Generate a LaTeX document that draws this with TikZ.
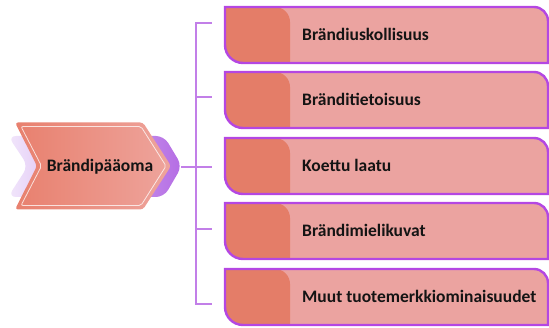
\documentclass[tikz,border=0pt]{standalone}
\usepackage{fontspec}
\setmainfont{Carlito}
\definecolor{boxlight}{HTML}{EBA3A0}
\definecolor{boxdark}{HTML}{E47D68}
\definecolor{boxedge}{HTML}{B447E2}
\definecolor{linkline}{HTML}{C27FE8}
\definecolor{chevleft}{HTML}{E8806E}
\definecolor{chevright}{HTML}{EEA49C}
\definecolor{shadeleft}{HTML}{F1E6FB}
\definecolor{shaderight}{HTML}{B46CE4}
\definecolor{ink}{HTML}{141414}
\begin{document}
\begin{tikzpicture}[x=1pt,y=1pt,
  labeltext/.style={font=\fontsize{17.5}{20}\selectfont\bfseries, text=ink, inner sep=0pt},
  bracketline/.style={draw=linkline, line width=2pt},
  boxborder/.style={draw=boxedge, line width=2.4pt}]
\useasboundingbox (0,0) rectangle (549,327);

% soft purple chevron lying behind the main one
\shade[left color=shadeleft, right color=shaderight, rounded corners=8]
  (8,191) -- (164,191) -- (182,161) -- (164,130) -- (8,130) -- (28,161) -- cycle;

% main chevron with its thin inner outline
\shade[left color=chevleft, right color=chevright, rounded corners=3]
  (15,204.5) -- (143,204.5) -- (171,161) -- (143,117.5) -- (15,117.5) -- (37,161) -- cycle;
\draw[white, opacity=0.75, line width=0.8pt, rounded corners=2]
  (21,200.5) -- (141,200.5) -- (166,161) -- (141,121.5) -- (21,121.5) -- (41.5,161) -- cycle;
\node[labeltext] (root) at (100,160) {Brändipääoma};
\coordinate (hub) at (181,160);

% the five rounded boxes, each with a darker tab on the left
\foreach \t/\lab [count=\i] in {320/Brändiuskollisuus, 255/Bränditietoisuus,
    189/Koettu laatu, 124/Brändimielikuvat, 58/Muut tuotemerkkiominaisuudet} {
  \pgfmathsetmacro\b{\t-56}
  \pgfmathsetmacro\c{\t-28}
  \fill[boxlight] (225,\t) -- (534,\t) arc[start angle=90, end angle=0, radius=14]
    -- (548,\b) -- (243,\b) arc[start angle=270, end angle=180, radius=18] -- cycle;
  \fill[boxdark] (225,\t) -- (275,\t) arc[start angle=90, end angle=0, radius=15]
    -- (290,\b) -- (243,\b) arc[start angle=270, end angle=180, radius=18] -- cycle;
  \draw[boxborder] (225,\t) -- (534,\t) arc[start angle=90, end angle=0, radius=14]
    -- (548,\b) -- (243,\b) arc[start angle=270, end angle=180, radius=18] -- cycle;
  \node[labeltext, anchor=west] (b\i) at (302,\c+1) {\lab};
}

% bracket joining the chevron to the boxes
\foreach \y [count=\i] in {304,230,160,98,23} {
  \coordinate (k\i) at (196,\y);
  \coordinate (e\i) at (212,\y);
}
\draw[bracketline] (e1) -- (k1) -- (k5) -- (e5);
\draw[bracketline] (k2) -- (e2);
\draw[bracketline] (k4) -- (e4);
\draw[bracketline] (hub) -- (e3);
\end{tikzpicture}
\end{document}
